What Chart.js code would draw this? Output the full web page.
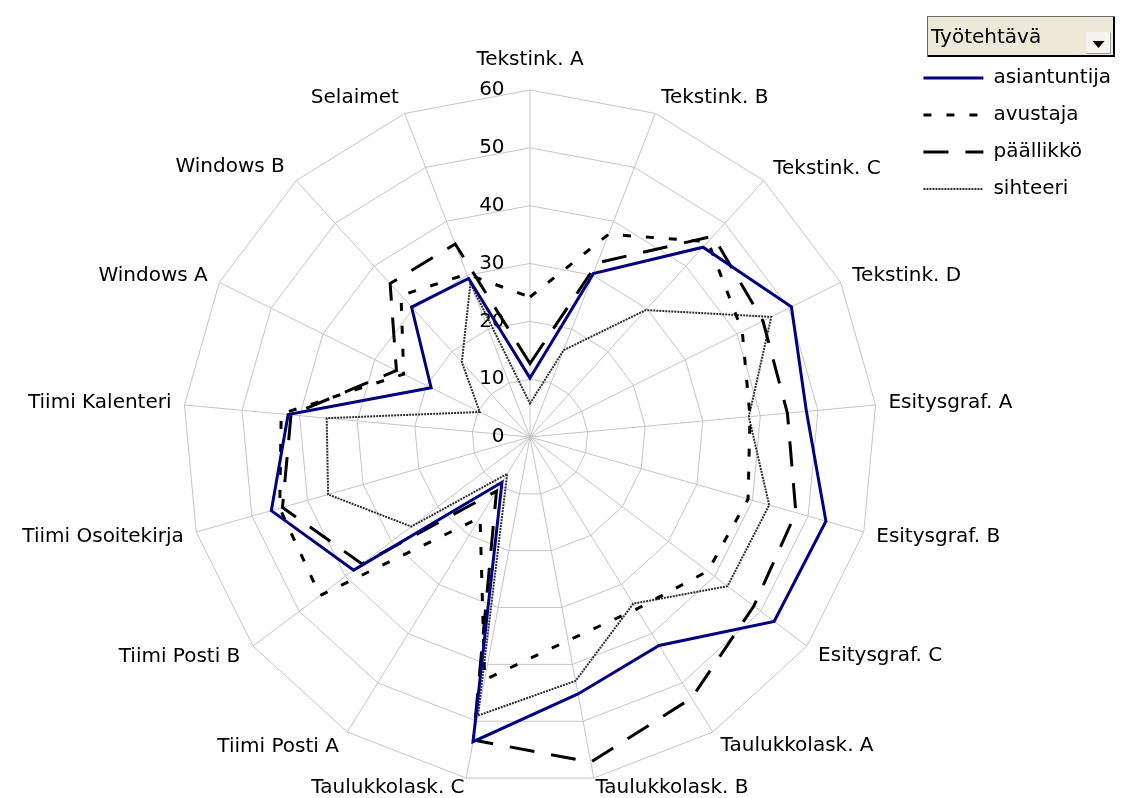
<!DOCTYPE html>
<html>
<head>
<meta charset="utf-8">
<script src="https://cdn.jsdelivr.net/npm/chart.js@4.4.1/dist/chart.umd.min.js"></script>
<style>
html,body{margin:0;padding:0;background:#fff;overflow:hidden}
#wrap{position:relative;width:1121px;height:798px}
</style>
</head>
<body>
<div id="wrap"><canvas id="c"></canvas></div>
<script>
// ---- data ----
const categories = ['Tekstink. A','Tekstink. B','Tekstink. C','Tekstink. D','Esitysgraf. A','Esitysgraf. B','Esitysgraf. C','Taulukkolask. A','Taulukkolask. B','Taulukkolask. C','Tiimi Posti A','Tiimi Posti B','Tiimi Osoitekirja','Tiimi Kalenteri','Windows A','Windows B','Selaimet'];
const asiantuntija = [10.2, 30.3, 44.4, 50.5, 48.0, 53.2, 52.9, 42.4, 45.2, 53.6, 9.2, 38.2, 46.5, 42.0, 19.1, 30.4, 29.4];
const avustaja     = [24.2, 37.6, 45.7, 41.0, 38.2, 39.2, 38.5, 35.0, 35.8, 42.7, 16.4, 45.5, 45.0, 43.2, 24.4, 33.1, 30.2];
const paallikko    = [12.7, 32.3, 47.0, 45.0, 44.7, 47.8, 48.5, 53.1, 57.2, 53.3, 11.0, 36.4, 44.5, 41.5, 25.8, 35.9, 35.8];
const sihteeri     = [5.8, 16.1, 29.7, 46.6, 38.0, 43.0, 42.8, 33.9, 42.9, 49.0, 7.5, 25.7, 36.3, 35.3, 9.7, 17.5, 28.5];
const seriesNames  = ['asiantuntija','avustaja','päällikkö','sihteeri'];
const tickValues   = [0, 10, 20, 30, 40, 50, 60];
const tickLabels   = ['0','10','20','30','40','50','60'];
const fieldButtonText = 'Työtehtävä';

// ---- layout / style ----
const FONT = "'DejaVu Sans', 'Liberation Sans', sans-serif";
const CENTER_X = 530, CENTER_Y = 437, RADIUS = 347;
const labelPadding = [17, 4, 2, 1, 1, 1, 2, 3, -3, -3, 4, 4, 1, 1, 1, 5, 4];

function padTick(s){ return s + '\u00a0'.repeat(s.length === 1 ? 10 : 12); }

const fieldButton = {
  id: 'fieldButton',
  afterDraw(chart) {
    const ctx = chart.ctx;
    ctx.save();
    const x = 927, y = 16, w = 188, h = 41;
    ctx.fillStyle = '#ece9d8';
    ctx.fillRect(x, y, w, h);
    ctx.strokeStyle = '#6a6a6a';
    ctx.lineWidth = 1;
    ctx.strokeRect(x + 0.5, y + 0.5, w - 1, h - 1);
    ctx.strokeStyle = '#000';
    ctx.lineWidth = 2;
    ctx.beginPath();
    ctx.moveTo(x + 1, y + h - 1); ctx.lineTo(x + w - 1, y + h - 1); ctx.lineTo(x + w - 1, y + 1);
    ctx.stroke();
    const bx = 1086, by = 32, bw = 25, bh = 22;
    ctx.fillStyle = '#f5f4ef';
    ctx.fillRect(bx, by, bw, bh);
    ctx.strokeStyle = '#a0a0a0';
    ctx.lineWidth = 1;
    ctx.beginPath();
    ctx.moveTo(bx + 0.5, by + bh - 0.5); ctx.lineTo(bx + bw - 0.5, by + bh - 0.5); ctx.lineTo(bx + bw - 0.5, by + 0.5);
    ctx.stroke();
    ctx.fillStyle = '#000';
    ctx.beginPath();
    ctx.moveTo(bx + bw/2 - 6, by + 9); ctx.lineTo(bx + bw/2 + 6, by + 9); ctx.lineTo(bx + bw/2, by + 16);
    ctx.closePath(); ctx.fill();
    ctx.font = '20px ' + FONT;
    ctx.textBaseline = 'middle';
    ctx.textAlign = 'left';
    ctx.fillText(fieldButtonText, 931, 38);
    ctx.restore();
  }
};

new Chart(document.getElementById('c'), {
  type: 'radar',
  data: {
    labels: categories,
    datasets: [
      { label: seriesNames[0], data: asiantuntija, borderColor: '#000080', borderWidth: 3, order: 1 },
      { label: seriesNames[1], data: avustaja, borderColor: '#000000', borderWidth: 3, borderDash: [8, 15], order: 2 },
      { label: seriesNames[2], data: paallikko, borderColor: '#000000', borderWidth: 3, borderDash: [25, 17], order: 3 },
      { label: seriesNames[3], data: sihteeri, borderColor: '#303030', borderWidth: 2, borderDash: [2, 1], order: 4 }
    ]
  },
  options: {
    responsive: true,
    maintainAspectRatio: false,
    animation: false,
    devicePixelRatio: 1,
    layout: { padding: { top: 51 } },
    elements: {
      line: { fill: false, tension: 0, borderCapStyle: 'butt', borderJoinStyle: 'miter' },
      point: { radius: 0, hoverRadius: 0 }
    },
    plugins: {
      legend: {
        position: 'right',
        align: 'start',
        labels: {
          usePointStyle: true,
          pointStyle: 'line',
          pointStyleWidth: 60,
          padding: 17,
          color: '#000',
          font: { family: FONT, size: 20 },
          generateLabels(chart) {
            const items = Chart.defaults.plugins.legend.labels.generateLabels(chart);
            items.forEach(it => {
              const ds = chart.data.datasets[it.datasetIndex];
              it.lineDash = ds.borderDash || [];
              it.lineWidth = ds.borderWidth;
              it.strokeStyle = ds.borderColor;
              it.fillStyle = 'rgba(0,0,0,0)';
              it.pointStyle = 'line';
            });
            return items;
          }
        }
      },
      tooltip: { enabled: false }
    },
    scales: {
      r: {
        min: -0.000001,
        max: 60,
        afterSetDimensions(scale) {
          scale.xCenter = CENTER_X;
          scale.yCenter = CENTER_Y;
          scale.drawingArea = RADIUS;
          scale.left = -5000; scale.right = 6000; scale.top = -5000; scale.bottom = 6000;
        },
        afterBuildTicks(scale) {
          scale.ticks = [{ value: scale.min }].concat(tickValues.map(v => ({ value: v })));
        },
        grid: { circular: false, color: '#c4c4c4', lineWidth: 1 },
        angleLines: { color: '#c4c4c4', lineWidth: 1 },
        ticks: {
          color: '#000',
          font: { family: FONT, size: 20 },
          showLabelBackdrop: false,
          backdropPadding: 2,
          callback: (v, i) => i === 0 ? '' : padTick(tickLabels[i - 1])
        },
        pointLabels: {
          color: '#000',
          font: { family: FONT, size: 20, lineHeight: 0.1 },
          padding: ctx => labelPadding[ctx.index]
        }
      }
    }
  },
  plugins: [fieldButton]
});
</script>
</body>
</html>
